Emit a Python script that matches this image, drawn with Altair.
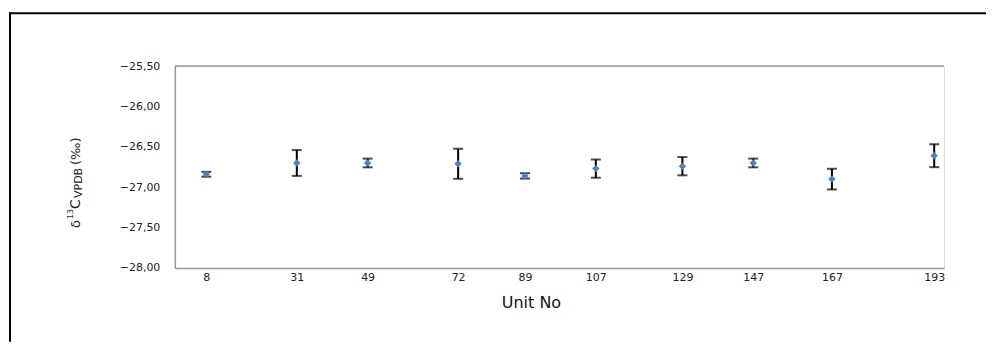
import altair as alt
import pandas as pd

# ---- data ----
units = [8, 31, 49, 72, 89, 107, 129, 147, 167, 193]
means = [-26.84, -26.70, -26.70, -26.71, -26.86, -26.77, -26.74, -26.70, -26.90, -26.61]
errs = [0.03, 0.16, 0.054, 0.186, 0.033, 0.113, 0.113, 0.054, 0.128, 0.142]
y_ticks = [-28.0, -27.5, -27.0, -26.5, -26.0, -25.5]

df = pd.DataFrame({"unit": units, "mean": means, "err": errs})
df["lo"] = df["mean"] - df["err"]
df["hi"] = df["mean"] + df["err"]

W, H = 770, 202
one = pd.DataFrame({"k": [0]})
FONT = "DejaVu Sans"

xs = alt.Scale(domain=[0, 195.5], nice=False, zero=False)
ys = alt.Scale(domain=[-28.0, -25.5], nice=False, zero=False)

x_axis = alt.Axis(values=units, format="d", title=None, grid=False, ticks=False,
                  labelFont=FONT, labelFontSize=11, labelColor="#222", labelPadding=4,
                  domainColor="#999", domainWidth=1.5, labelFlush=False)
y_axis = alt.Axis(values=y_ticks, title=None, grid=False, ticks=False,
                  labelExpr="replace(format(datum.value, '.2f'), '.', ',')",
                  labelFont=FONT, labelFontSize=11, labelColor="#222", labelPadding=15,
                  domainColor="#999", domainWidth=1.5)

base = alt.Chart(df)

bars = base.mark_rule(color="black", strokeWidth=2).encode(
    x=alt.X("unit:Q", scale=xs, axis=x_axis),
    y=alt.Y("lo:Q", scale=ys, axis=y_axis),
    y2="hi:Q",
)
cap_lo = base.mark_tick(color="black", thickness=2, size=10, orient="horizontal").encode(
    x=alt.X("unit:Q", scale=xs), y=alt.Y("lo:Q", scale=ys))
cap_hi = base.mark_tick(color="black", thickness=2, size=10, orient="horizontal").encode(
    x=alt.X("unit:Q", scale=xs), y=alt.Y("hi:Q", scale=ys))
pts = base.mark_point(shape="diamond", filled=True, color="#4F81BD", size=55, opacity=1).encode(
    x=alt.X("unit:Q", scale=xs), y=alt.Y("mean:Q", scale=ys))

top_line = alt.Chart(one).mark_rule(color="#999", strokeWidth=1.5).encode(
    x=alt.value(0), x2=alt.value(W), y=alt.value(0))

frame_top = alt.Chart(one).mark_rule(color="black", strokeWidth=2, strokeCap="square").encode(
    x=alt.value(-165), x2=alt.value(811), y=alt.value(-53))
frame_left = alt.Chart(one).mark_rule(color="black", strokeWidth=2, strokeCap="square").encode(
    x=alt.value(-165), y=alt.value(-53), y2=alt.value(275))

def rot_text(txt, x, y, size):
    return alt.Chart(one).mark_text(text=txt, angle=270, align="left", baseline="middle",
                                    font=FONT, fontSize=size, color="#222").encode(
        x=alt.value(x), y=alt.value(y))

ytitle = [
    rot_text("δ", -99, 162, 13),
    rot_text("13", -103.5, 153, 8),
    rot_text("C", -99, 143, 14),
    rot_text("VPDB", -96, 132, 11),
    rot_text("(‰)", -99, 99, 13),
]

xtitle = alt.Chart(one).mark_text(text="Unit No", align="center", baseline="middle",
                                  font=FONT, fontSize=16, color="#111").encode(
    x=alt.value(357), y=alt.value(237.5))

chart = alt.layer(top_line, bars, cap_lo, cap_hi, pts, frame_top, frame_left, xtitle, *ytitle).properties(
    width=W, height=H,
    padding={"left": 0, "top": 3, "right": 0, "bottom": 0},
).configure_view(stroke=None).configure(background="white")

chart.save("out.html", embed_options={"renderer": "svg", "actions": False})
